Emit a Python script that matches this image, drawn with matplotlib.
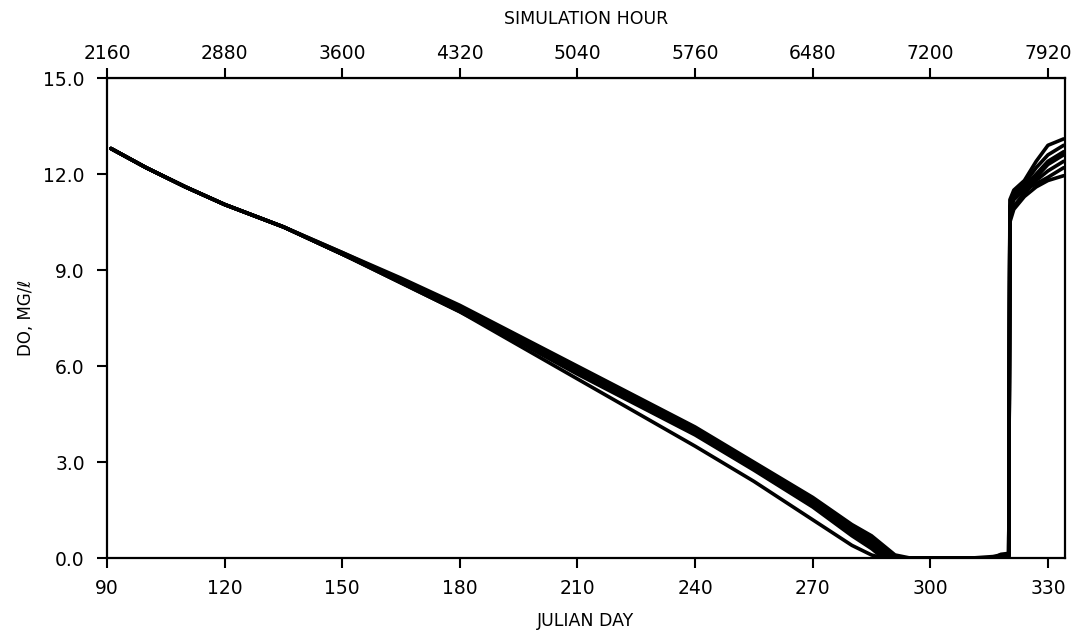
import matplotlib
matplotlib.use("Agg")
import matplotlib.pyplot as plt

# Julian day grid shared by all runs
days = [91, 100, 110, 120, 135, 150, 165, 180, 195, 210, 225, 240, 255, 270, 280,
        285, 288, 291, 295, 300, 310, 316, 318, 320]
# DO values (mg/l) for each simulation run, falling segment
run_a = [12.8, 12.2, 11.6, 11.05, 10.35, 9.55, 8.75, 7.9, 6.95, 6.0, 5.05, 4.1, 3.0, 1.9, 1.05, 0.7, 0.4, 0.1, 0.0, 0.0, 0.0, 0.0, 0.12, 0.15]
run_b = [12.8, 12.2, 11.6, 11.05, 10.35, 9.55, 8.7, 7.85, 6.9, 5.95, 5.0, 4.05, 2.95, 1.8, 0.95, 0.6, 0.3, 0.0, 0.0, 0.0, 0.0, 0.05, 0.1, 0.1]
run_c = [12.8, 12.2, 11.6, 11.05, 10.35, 9.5, 8.7, 7.8, 6.85, 5.9, 4.95, 4.0, 2.9, 1.75, 0.9, 0.5, 0.2, 0.0, 0.0, 0.0, 0.0, 0.0, 0.08, 0.1]
run_d = [12.8, 12.2, 11.6, 11.05, 10.35, 9.5, 8.65, 7.8, 6.85, 5.85, 4.9, 3.95, 2.85, 1.7, 0.8, 0.4, 0.15, 0.0, 0.0, 0.0, 0.0, 0.0, 0.05, 0.05]
run_e = [12.8, 12.2, 11.6, 11.05, 10.35, 9.5, 8.65, 7.75, 6.8, 5.8, 4.85, 3.9, 2.8, 1.65, 0.75, 0.35, 0.05, 0.0, 0.0, 0.0, 0.0, 0.0, 0.05, 0.05]
run_f = [12.8, 12.2, 11.6, 11.05, 10.35, 9.5, 8.6, 7.7, 6.75, 5.75, 4.8, 3.85, 2.75, 1.6, 0.7, 0.3, 0.0, 0.0, 0.0, 0.0, 0.0, 0.0, 0.05, 0.05]
run_g = [12.8, 12.2, 11.6, 11.05, 10.35, 9.5, 8.6, 7.7, 6.65, 5.6, 4.55, 3.5, 2.4, 1.2, 0.4, 0.1, 0.0, 0.0, 0.0, 0.0, 0.0, 0.0, 0.05, 0.05]

# recovery segment after reaeration (day, DO) per run
rec_days = [320.3, 321.3, 324, 327, 330, 334]
rec_a = [11.2, 11.5, 11.8, 12.4, 12.9, 13.1]
rec_b = [11.0, 11.4, 11.7, 12.2, 12.6, 12.9]
rec_c = [10.8, 11.2, 11.5, 11.9, 12.3, 12.6]
rec_d = [10.6, 11.0, 11.4, 11.8, 12.1, 12.4]
rec_e = [10.9, 11.3, 11.5, 11.7, 11.9, 12.2]
rec_f = [10.5, 10.9, 11.3, 11.6, 11.8, 11.95]
rec_g = [10.7, 11.4, 11.6, 12.0, 12.4, 12.7]

runs = [(run_a, rec_a), (run_b, rec_b), (run_c, rec_c), (run_d, rec_d),
        (run_e, rec_e), (run_f, rec_f), (run_g, rec_g)]

day_ticks = [90, 120, 150, 180, 210, 240, 270, 300, 330]
hour_labels = ["2160", "2880", "3600", "4320", "5040", "5760", "6480", "7200", "7920"]
y_ticks = [0, 3, 6, 9, 12, 15]
y_labels = ["0.0", "3.0", "6.0", "9.0", "12.0", "15.0"]

fig = plt.figure(figsize=(10.81, 6.35), dpi=100)
ax = fig.add_axes([0.099, 0.121, 0.886, 0.756])

for fall, rec in runs:
    ax.plot(days + rec_days, fall + rec, color="black", lw=2.6,
            solid_capstyle="round", solid_joinstyle="round")

ax.set_xlim(90, 334.3)
ax.set_ylim(0, 15)
ax.set_xticks(day_ticks)
ax.set_xticklabels([str(d) for d in day_ticks])
ax.set_yticks(y_ticks)
ax.set_yticklabels(y_labels)
ax.tick_params(axis="x", direction="out", length=7, width=1.5, labelsize=13.5, pad=8, color="black")
ax.tick_params(axis="y", direction="out", length=7, width=1.5, labelsize=13.5, pad=9, color="black")
for s in ax.spines.values():
    s.set_linewidth(1.6)

top = ax.secondary_xaxis("top")
top.set_xticks(day_ticks)
top.set_xticklabels(hour_labels)
top.tick_params(direction="out", length=7, width=1.5, labelsize=13.5, pad=4)
top.set_xlabel("SIMULATION HOUR", fontsize=12.5, labelpad=14)

ax.set_xlabel("JULIAN DAY", fontsize=12.5, labelpad=10)
ax.set_ylabel("DO, MG/\u2113", fontsize=12, labelpad=6)

fig.savefig("out.png", dpi=100, facecolor="white")
